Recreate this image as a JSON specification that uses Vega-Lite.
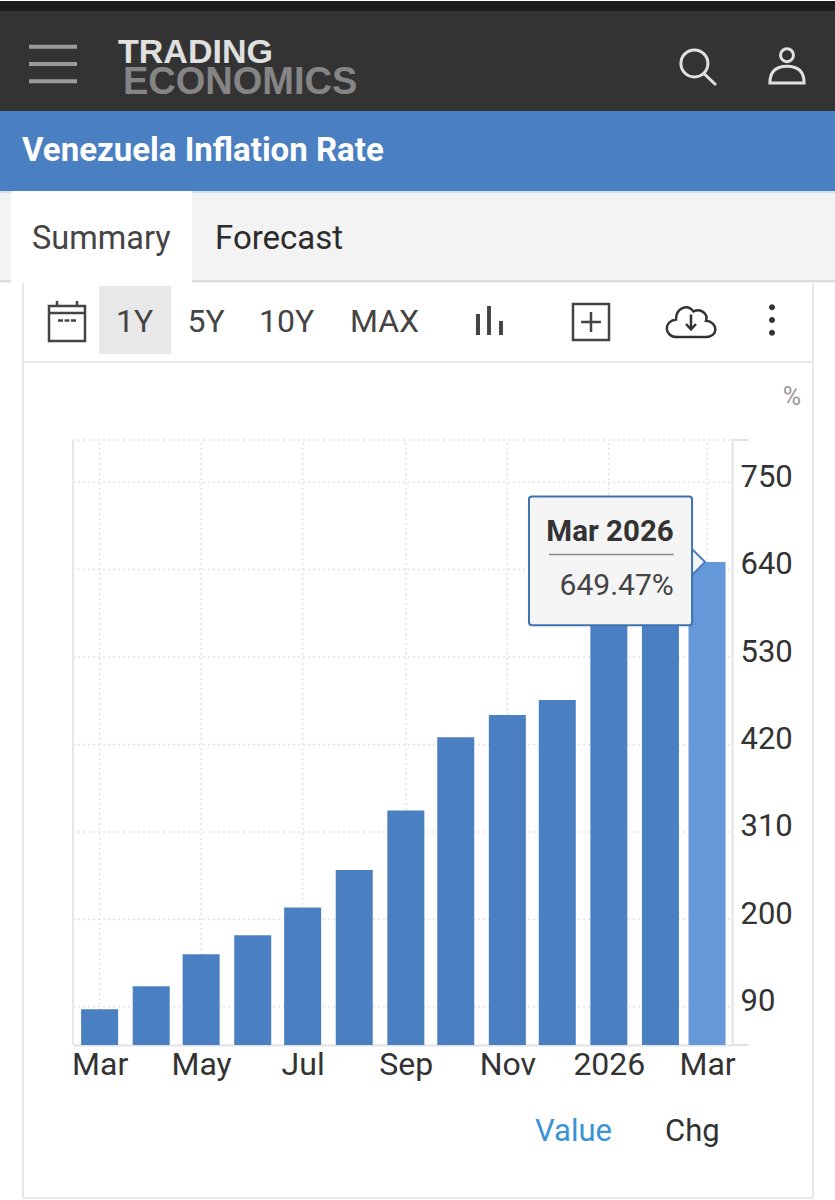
{
  "$schema": "https://vega.github.io/schema/vega-lite/v6.json",
  "background": "#ffffff",
  "padding": 0,
  "spacing": 0,
  "bounds": "flush",
  "config": {"font": "Roboto", "view": {"stroke": null}},
  "datasets": {
    "inflation": [
      {"month": "2025-03-01", "rate": 87},
      {"month": "2025-04-01", "rate": 116},
      {"month": "2025-05-01", "rate": 156},
      {"month": "2025-06-01", "rate": 180},
      {"month": "2025-07-01", "rate": 215},
      {"month": "2025-08-01", "rate": 262},
      {"month": "2025-09-01", "rate": 337},
      {"month": "2025-10-01", "rate": 429},
      {"month": "2025-11-01", "rate": 457},
      {"month": "2025-12-01", "rate": 476},
      {"month": "2026-01-01", "rate": 600},
      {"month": "2026-02-01", "rate": 603},
      {"month": "2026-03-01", "rate": 649.47}
    ],
    "yTicks": [{"tick": 90}, {"tick": 200}, {"tick": 310}, {"tick": 420}, {"tick": 530}, {"tick": 640}, {"tick": 750}, {"tick": 803}],
    "xTicks": [{"tick": "2025-03-01"}, {"tick": "2025-05-01"}, {"tick": "2025-07-01"}, {"tick": "2025-09-01"}, {"tick": "2025-11-01"}, {"tick": "2026-01-01"}, {"tick": "2026-03-01"}]
  },
  "vconcat": [
    {
      "width": 835, "height": 10,
      "view": {"fill": "#1c1c1c"},
      "data": {"values": [{"item": ""}]},
      "mark": {"type": "text"},
      "encoding": {"text": {"field": "item"}}
    },
    {
      "width": 835, "height": 100,
      "view": {"fill": "#333333"},
      "resolve": {"scale": {"x": "independent", "y": "independent"}},
      "layer": [
        {
          "data": {"values": [{"item": "menu"}]},
          "mark": {"type": "point", "shape": "M-1,-.72H1M-1,0H1M-1,.72H1", "size": 2304, "stroke": "#9a9a9a", "strokeWidth": 4, "filled": false, "opacity": 1},
          "encoding": {
            "x": {"field": "item", "type": "nominal", "axis": null, "scale": {"type": "point", "padding": 0, "range": [53, 53]}},
            "y": {"field": "item", "type": "nominal", "axis": null, "scale": {"type": "point", "padding": 0, "range": [53, 53]}}
          }
        },
        {
          "data": {"values": [{"item": "search"}]},
          "mark": {"type": "point", "shape": "M.55,-.2A.75,.75 0 1 1 -.95,-.2A.75,.75 0 1 1 .55,-.2ZM.32,.35L1,1", "size": 1296, "stroke": "#e0e0e0", "strokeWidth": 3, "filled": false, "opacity": 1},
          "encoding": {
            "x": {"field": "item", "type": "nominal", "axis": null, "scale": {"type": "point", "padding": 0, "range": [698, 698]}},
            "y": {"field": "item", "type": "nominal", "axis": null, "scale": {"type": "point", "padding": 0, "range": [56, 56]}}
          }
        },
        {
          "data": {"values": [{"item": "user"}]},
          "mark": {"type": "point", "shape": "M.36,-.6A.36,.36 0 1 1 -.36,-.6A.36,.36 0 1 1 .36,-.6ZM-.95,.95C-.95,.2 -.5,.02 0,.02C.5,.02 .95,.2 .95,.95Z", "size": 1296, "stroke": "#e0e0e0", "strokeWidth": 3, "filled": false, "opacity": 1},
          "encoding": {
            "x": {"field": "item", "type": "nominal", "axis": null, "scale": {"type": "point", "padding": 0, "range": [787, 787]}},
            "y": {"field": "item", "type": "nominal", "axis": null, "scale": {"type": "point", "padding": 0, "range": [55, 55]}}
          }
        },
        {
          "data": {"values": [{"item": "TRADING"}]},
          "mark": {"type": "text", "font": "Liberation Sans", "fontWeight": "bold", "fontSize": 34, "align": "left", "baseline": "middle", "color": "#e0e0e0"},
          "encoding": {
            "text": {"field": "item"},
            "x": {"field": "item", "type": "nominal", "axis": null, "scale": {"type": "point", "padding": 0, "range": [118, 118]}},
            "y": {"field": "item", "type": "nominal", "axis": null, "scale": {"type": "point", "padding": 0, "range": [42, 42]}}
          }
        },
        {
          "data": {"values": [{"item": "ECONOMICS"}]},
          "mark": {"type": "text", "font": "Liberation Sans", "fontWeight": "bold", "fontSize": 38, "align": "left", "baseline": "middle", "color": "#858585"},
          "encoding": {
            "text": {"field": "item"},
            "x": {"field": "item", "type": "nominal", "axis": null, "scale": {"type": "point", "padding": 0, "range": [123, 123]}},
            "y": {"field": "item", "type": "nominal", "axis": null, "scale": {"type": "point", "padding": 0, "range": [72, 72]}}
          }
        }
      ]
    },
    {
      "width": 835, "height": 80,
      "view": {"fill": "#4a7fc1"},
      "data": {"values": [{"item": "Venezuela Inflation Rate"}]},
      "mark": {"type": "text", "fontSize": 33, "fontWeight": "bold", "align": "left", "baseline": "middle", "color": "#ffffff"},
      "encoding": {
        "text": {"field": "item"},
        "x": {"field": "item", "type": "nominal", "axis": null, "scale": {"type": "point", "padding": 0, "range": [22, 22]}}
      }
    },
    {
      "width": 835, "height": 92,
      "view": {"fill": "#f3f3f4"},
      "resolve": {"scale": {"x": "independent", "y": "independent"}},
      "layer": [
        {
          "data": {"values": [{"item": "top"}]},
          "mark": {"type": "rect", "color": "#d5e0ee"},
          "encoding": {
            "y": {"field": "item", "type": "nominal", "axis": null, "scale": {"type": "band", "paddingInner": 0, "paddingOuter": 0, "range": [0, 2]}}
          }
        },
        {
          "data": {"values": [{"item": "bottom"}]},
          "mark": {"type": "rect", "color": "#dcdcdc"},
          "encoding": {
            "y": {"field": "item", "type": "nominal", "axis": null, "scale": {"type": "band", "paddingInner": 0, "paddingOuter": 0, "range": [89, 91]}}
          }
        },
        {
          "data": {"values": [{"item": "Summary"}]},
          "mark": {"type": "rect", "color": "#ffffff"},
          "encoding": {
            "x": {"field": "item", "type": "nominal", "axis": null, "scale": {"type": "band", "paddingInner": 0, "paddingOuter": 0, "range": [11, 192]}}
          }
        },
        {
          "data": {"values": [{"item": "Summary"}]},
          "mark": {"type": "text", "fontSize": 32.5, "align": "left", "baseline": "middle", "color": "#444444"},
          "encoding": {
            "text": {"field": "item"},
            "x": {"field": "item", "type": "nominal", "axis": null, "scale": {"type": "point", "padding": 0, "range": [32, 32]}},
            "y": {"field": "item", "type": "nominal", "axis": null, "scale": {"type": "point", "padding": 0, "range": [48, 48]}}
          }
        },
        {
          "data": {"values": [{"item": "Forecast"}]},
          "mark": {"type": "text", "fontSize": 33, "align": "left", "baseline": "middle", "color": "#2c2c2c"},
          "encoding": {
            "text": {"field": "item"},
            "x": {"field": "item", "type": "nominal", "axis": null, "scale": {"type": "point", "padding": 0, "range": [215, 215]}},
            "y": {"field": "item", "type": "nominal", "axis": null, "scale": {"type": "point", "padding": 0, "range": [48, 48]}}
          }
        }
      ]
    },
    {
      "width": 835, "height": 80,
      "view": {"fill": "#ffffff"},
      "resolve": {"scale": {"x": "independent", "y": "independent"}},
      "layer": [
        {
          "data": {"values": [{"item": "left"}, {"item": "right"}]},
          "mark": {"type": "rule", "color": "#e8e8e8", "strokeWidth": 2},
          "encoding": {
            "x": {"field": "item", "type": "nominal", "axis": null, "scale": {"type": "point", "padding": 0, "domain": ["left", "right"], "range": [23, 813]}}
          }
        },
        {
          "data": {"values": [{"item": "separator"}]},
          "mark": {"type": "rule", "color": "#e6e6e6", "strokeWidth": 2},
          "encoding": {
            "y": {"field": "item", "type": "nominal", "axis": null, "scale": {"type": "point", "padding": 0, "range": [79, 79]}},
            "x": {"datum": "a", "type": "nominal", "axis": null, "scale": {"type": "point", "padding": 0, "domain": ["a", "b"], "range": [23, 813]}},
            "x2": {"datum": "b"}
          }
        },
        {
          "data": {"values": [{"item": "1Y"}]},
          "mark": {"type": "rect", "color": "#e8e8e8"},
          "encoding": {
            "x": {"field": "item", "type": "nominal", "axis": null, "scale": {"type": "band", "paddingInner": 0, "paddingOuter": 0, "range": [99, 171]}},
            "y": {"field": "item", "type": "nominal", "axis": null, "scale": {"type": "band", "paddingInner": 0, "paddingOuter": 0, "range": [3, 71]}}
          }
        },
        {
          "data": {"values": [{"item": "1Y"}, {"item": "5Y"}, {"item": "10Y"}]},
          "mark": {"type": "text", "fontSize": 32, "align": "left", "baseline": "middle", "color": "#444444"},
          "encoding": {
            "text": {"field": "item"},
            "x": {"field": "item", "type": "nominal", "axis": null, "scale": {"type": "point", "padding": 0, "domain": ["1Y", "5Y", "10Y"], "range": [116, 259]}},
            "y": {"field": "item", "type": "nominal", "axis": null, "scale": {"type": "point", "padding": 0, "domain": ["1Y", "5Y", "10Y"], "range": [39, 39]}}
          }
        },
        {
          "data": {"values": [{"item": "MAX"}]},
          "mark": {"type": "text", "fontSize": 32, "align": "left", "baseline": "middle", "color": "#444444"},
          "encoding": {
            "text": {"field": "item"},
            "x": {"field": "item", "type": "nominal", "axis": null, "scale": {"type": "point", "padding": 0, "range": [350, 350]}},
            "y": {"field": "item", "type": "nominal", "axis": null, "scale": {"type": "point", "padding": 0, "range": [39, 39]}}
          }
        },
        {
          "data": {"values": [{"item": "calendar"}]},
          "mark": {"type": "point", "shape": "M-.9,-.75H.9V1H-.9ZM-.9,-.4H.9M-.5,-1V-.75M.5,-1V-.75M-.45,-.02H-.2M-.12,-.02H.12M.2,-.02H.45", "size": 1600, "stroke": "#444444", "strokeWidth": 2.5, "filled": false, "opacity": 1},
          "encoding": {
            "x": {"field": "item", "type": "nominal", "axis": null, "scale": {"type": "point", "padding": 0, "range": [67, 67]}},
            "y": {"field": "item", "type": "nominal", "axis": null, "scale": {"type": "point", "padding": 0, "range": [38, 38]}}
          }
        },
        {
          "data": {"values": [{"item": "bars"}]},
          "mark": {"type": "point", "shape": "M-.87,1V-.4H-.6V1ZM-.13,1V-.93H.13V1ZM.67,1V.07H.93V1Z", "size": 900, "fill": "#444444", "strokeWidth": 0, "filled": true, "opacity": 1},
          "encoding": {
            "x": {"field": "item", "type": "nominal", "axis": null, "scale": {"type": "point", "padding": 0, "range": [489, 489]}},
            "y": {"field": "item", "type": "nominal", "axis": null, "scale": {"type": "point", "padding": 0, "range": [37, 37]}}
          }
        },
        {
          "data": {"values": [{"item": "plus"}]},
          "mark": {"type": "point", "shape": "M-1,-1H1V1H-1ZM-.55,0H.55M0,-.55V.55", "size": 1296, "stroke": "#444444", "strokeWidth": 2.5, "filled": false, "opacity": 1},
          "encoding": {
            "x": {"field": "item", "type": "nominal", "axis": null, "scale": {"type": "point", "padding": 0, "range": [591, 591]}},
            "y": {"field": "item", "type": "nominal", "axis": null, "scale": {"type": "point", "padding": 0, "range": [39, 39]}}
          }
        },
        {
          "data": {"values": [{"item": "cloud"}]},
          "mark": {"type": "point", "shape": "M-.55,.6C-1.1,.6 -1.1,-.05 -.6,-.1C-.6,-.55 -.15,-.75 .1,-.42C.4,-.58 .7,-.3 .6,-.05C1.1,0 1.1,.6 .6,.6ZM0,-.3V.3M-.2,.08L0,.3L.2,.08", "size": 2500, "stroke": "#333333", "strokeWidth": 2.5, "filled": false, "opacity": 1},
          "encoding": {
            "x": {"field": "item", "type": "nominal", "axis": null, "scale": {"type": "point", "padding": 0, "range": [691, 691]}},
            "y": {"field": "item", "type": "nominal", "axis": null, "scale": {"type": "point", "padding": 0, "range": [39, 39]}}
          }
        },
        {
          "data": {"values": [{"item": "more"}]},
          "mark": {"type": "point", "shape": "M.2,-.85A.2,.2 0 1 1 -.2,-.85A.2,.2 0 1 1 .2,-.85ZM.2,0A.2,.2 0 1 1 -.2,0A.2,.2 0 1 1 .2,0ZM.2,.85A.2,.2 0 1 1 -.2,.85A.2,.2 0 1 1 .2,.85Z", "size": 900, "fill": "#333333", "strokeWidth": 0, "filled": true, "opacity": 1},
          "encoding": {
            "x": {"field": "item", "type": "nominal", "axis": null, "scale": {"type": "point", "padding": 0, "range": [772, 772]}},
            "y": {"field": "item", "type": "nominal", "axis": null, "scale": {"type": "point", "padding": 0, "range": [37, 37]}}
          }
        }
      ]
    },
    {
      "width": 835, "height": 838,
      "view": {"fill": "#ffffff"},
      "resolve": {"scale": {"x": "independent", "y": "independent"}},
      "layer": [
        {
          "data": {"values": [{"item": "left"}, {"item": "right"}]},
          "mark": {"type": "rule", "color": "#e8e8e8", "strokeWidth": 2},
          "encoding": {
            "x": {"field": "item", "type": "nominal", "axis": null, "scale": {"type": "point", "padding": 0, "domain": ["left", "right"], "range": [23, 813]}},
            "y": {"datum": "top", "type": "nominal", "axis": null, "scale": {"type": "point", "padding": 0, "domain": ["top", "bottom"], "range": [0, 835]}},
            "y2": {"datum": "bottom"}
          }
        },
        {
          "data": {"values": [{"item": "end"}]},
          "mark": {"type": "rule", "color": "#e8e8e8", "strokeWidth": 2},
          "encoding": {
            "y": {"field": "item", "type": "nominal", "axis": null, "scale": {"type": "point", "padding": 0, "range": [835, 835]}},
            "x": {"datum": "a", "type": "nominal", "axis": null, "scale": {"type": "point", "padding": 0, "domain": ["a", "b"], "range": [23, 813]}},
            "x2": {"datum": "b"}
          }
        },
        {
          "data": {"values": [{"item": "%"}]},
          "mark": {"type": "text", "fontSize": 25, "align": "center", "baseline": "middle", "color": "#999999"},
          "encoding": {
            "text": {"field": "item"},
            "x": {"field": "item", "type": "nominal", "axis": null, "scale": {"type": "point", "padding": 0, "range": [792, 792]}},
            "y": {"field": "item", "type": "nominal", "axis": null, "scale": {"type": "point", "padding": 0, "range": [34, 34]}}
          }
        },
        {
          "data": {"values": [{"item": "Value"}, {"item": "Chg"}]},
          "mark": {"type": "text", "fontSize": 31, "align": "left", "baseline": "middle"},
          "encoding": {
            "text": {"field": "item"},
            "x": {"field": "item", "type": "nominal", "axis": null, "scale": {"type": "point", "padding": 0, "domain": ["Value", "Chg"], "range": [535, 665]}},
            "y": {"field": "item", "type": "nominal", "axis": null, "scale": {"type": "point", "padding": 0, "domain": ["Value", "Chg"], "range": [769, 769]}},
            "color": {"field": "item", "type": "nominal", "legend": null, "scale": {"domain": ["Value", "Chg"], "range": ["#3a93d4", "#333333"]}}
          }
        },
        {
          "encoding": {
            "x": {
              "type": "temporal",
              "title": null,
              "scale": {
                "type": "utc",
                "nice": false,
                "padding": 0,
                "domain": [{"year": 2025, "month": 2, "date": 13, "utc": true}, {"year": 2026, "month": 3, "date": 16, "utc": true}],
                "range": [73, 732]
              },
              "axis": {
                "orient": "bottom",
                "offset": -156,
                "title": null,
                "grid": false,
                "ticks": false,
                "domainColor": "#e2e2e2",
                "domainWidth": 2,
                "labelFontSize": 32,
                "labelFont": "Roboto",
                "labelColor": "#333333",
                "labelPadding": 4,
                "labelOverlap": false,
                "labelFlush": false,
                "values": [
                  {"year": 2025, "month": 3, "date": 1, "utc": true},
                  {"year": 2025, "month": 5, "date": 1, "utc": true},
                  {"year": 2025, "month": 7, "date": 1, "utc": true},
                  {"year": 2025, "month": 9, "date": 1, "utc": true},
                  {"year": 2025, "month": 11, "date": 1, "utc": true},
                  {"year": 2026, "month": 1, "date": 1, "utc": true},
                  {"year": 2026, "month": 3, "date": 1, "utc": true}
                ],
                "labelExpr": "utcmonth(datum.value) == 0 ? utcFormat(datum.value, '%Y') : utcFormat(datum.value, '%b')"
              }
            },
            "y": {
              "type": "quantitative",
              "title": null,
              "scale": {"domain": [42, 803], "zero": false, "nice": false, "range": [682, 77]},
              "axis": {
                "orient": "right",
                "offset": -103,
                "title": null,
                "grid": false,
                "ticks": false,
                "domainColor": "#e2e2e2",
                "domainWidth": 2,
                "labelFontSize": 31,
                "labelColor": "#333333",
                "labelPadding": 8,
                "labelOffset": -5,
                "labelOverlap": false,
                "labelFlush": false,
                "values": [90, 200, 310, 420, 530, 640, 750]
              }
            }
          },
          "layer": [
            {
              "data": {"name": "xTicks"},
              "mark": {"type": "rule", "color": "#e2e2e2", "strokeWidth": 1.5, "strokeDash": [2, 3]},
              "encoding": {
                "x": {"field": "tick", "type": "temporal"},
                "y": {"datum": 42, "type": "quantitative"},
                "y2": {"datum": 803}
              }
            },
            {
              "data": {"name": "yTicks"},
              "mark": {"type": "rule", "color": "#e2e2e2", "strokeWidth": 1.5, "strokeDash": [2, 3]},
              "encoding": {
                "y": {"field": "tick", "type": "quantitative"},
                "x": {"datum": {"year": 2025, "month": 2, "date": 13, "utc": true}, "type": "temporal"},
                "x2": {"datum": {"year": 2026, "month": 3, "date": 16, "utc": true}}
              }
            },
            {
              "data": {"values": [{"tick": 42}, {"tick": 803}]},
              "mark": {"type": "rule", "color": "#e2e2e2", "strokeWidth": 2},
              "encoding": {
                "y": {"field": "tick", "type": "quantitative"},
                "x": {"datum": {"year": 2026, "month": 3, "date": 16, "utc": true}, "type": "temporal"},
                "x2": {"datum": {"year": 2026, "month": 3, "date": 26, "utc": true}}
              }
            },
            {
              "data": {"values": [{"tick": "2025-02-13"}]},
              "mark": {"type": "rule", "color": "#e8e8e8", "strokeWidth": 2},
              "encoding": {
                "x": {"field": "tick", "type": "temporal"},
                "y": {"datum": 42, "type": "quantitative"},
                "y2": {"datum": 803}
              }
            },
            {
              "data": {"name": "inflation"},
              "mark": {"type": "bar", "width": 37},
              "encoding": {
                "x": {"field": "month", "type": "temporal"},
                "y": {"field": "rate", "type": "quantitative"},
                "y2": {"datum": 42},
                "color": {
                  "condition": {"test": "datum.rate == 649.47", "value": "#6498d8"},
                  "value": "#4a7fc1"
                }
              }
            },
            {
              "data": {"values": [{"title": "Mar 2026", "value": "649.47%"}]},
              "layer": [
                {
                  "mark": {"type": "point", "shape": "M-1,0L0,-1L1,0L0,1Z", "size": 676, "filled": true, "fill": "#f5f5f6", "stroke": "#4a7fc1", "strokeWidth": 2, "opacity": 1},
                  "encoding": {
                    "x": {"datum": {"year": 2026, "month": 2, "date": 20, "utc": true}, "type": "temporal"},
                    "y": {"datum": 649.47, "type": "quantitative"}
                  }
                },
                {
                  "mark": {"type": "rect", "fill": "#f5f5f6", "stroke": "#3f73b0", "strokeWidth": 2, "cornerRadius": 3, "opacity": 1},
                  "encoding": {
                    "x": {"datum": {"year": 2025, "month": 11, "date": 14, "utc": true}, "type": "temporal"},
                    "x2": {"datum": {"year": 2026, "month": 2, "date": 20, "utc": true}},
                    "y": {"datum": 732, "type": "quantitative"},
                    "y2": {"datum": 570}
                  }
                },
                {
                  "mark": {"type": "rule", "color": "#8a8a8a", "strokeWidth": 1.5},
                  "encoding": {
                    "x": {"datum": {"year": 2025, "month": 11, "date": 26, "utc": true}, "type": "temporal"},
                    "x2": {"datum": {"year": 2026, "month": 2, "date": 9, "utc": true}},
                    "y": {"datum": 659, "type": "quantitative"}
                  }
                },
                {
                  "mark": {"type": "text", "fontSize": 29.5, "fontWeight": "bold", "align": "right", "baseline": "middle", "color": "#333333"},
                  "encoding": {
                    "text": {"field": "title"},
                    "x": {"datum": {"year": 2026, "month": 2, "date": 9, "utc": true}, "type": "temporal"},
                    "y": {"datum": 687, "type": "quantitative"}
                  }
                },
                {
                  "mark": {"type": "text", "fontSize": 30, "align": "right", "baseline": "middle", "color": "#444444"},
                  "encoding": {
                    "text": {"field": "value"},
                    "x": {"datum": {"year": 2026, "month": 2, "date": 9, "utc": true}, "type": "temporal"},
                    "y": {"datum": 619, "type": "quantitative"}
                  }
                }
              ]
            }
          ]
        }
      ]
    }
  ]
}
